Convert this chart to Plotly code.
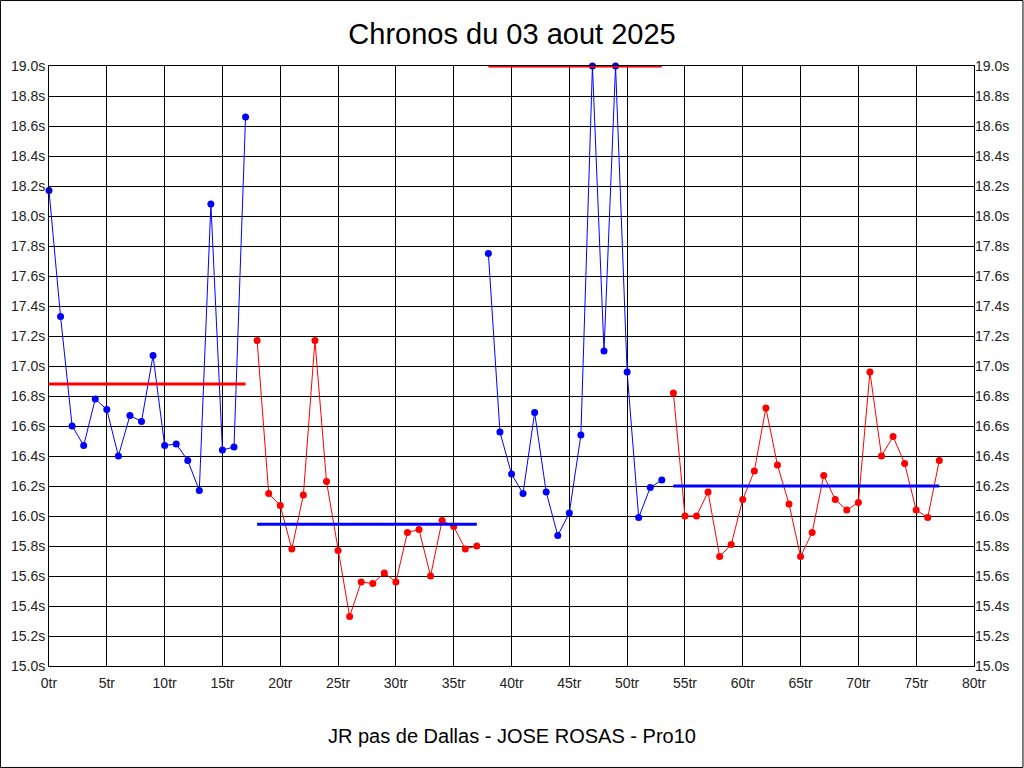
import plotly.graph_objects as go

# ---- data ----
x1 = list(range(0, 18))
y1 = [18.17, 17.33, 16.60, 16.47, 16.78, 16.71, 16.40, 16.67, 16.63, 17.07,
      16.47, 16.48, 16.37, 16.17, 18.08, 16.44, 16.46, 18.66]
avg1 = 16.88

x2 = list(range(18, 38))
y2 = [17.17, 16.15, 16.07, 15.78, 16.14, 17.17, 16.23, 15.77, 15.33, 15.56,
      15.55, 15.62, 15.56, 15.89, 15.91, 15.60, 15.97, 15.93, 15.78, 15.80]
avg2 = 15.945

x3 = list(range(38, 54))
y3 = [17.75, 16.56, 16.28, 16.15, 16.69, 16.16, 15.87, 16.02, 16.54, 19.00,
      17.10, 19.00, 16.96, 15.99, 16.19, 16.24]
avg3 = 19.00

x4 = list(range(54, 78))
y4 = [16.82, 16.00, 16.00, 16.16, 15.73, 15.81, 16.11, 16.30, 16.72, 16.34,
      16.08, 15.73, 15.89, 16.27, 16.11, 16.04, 16.09, 16.96, 16.40, 16.53,
      16.35, 16.04, 15.99, 16.37]
avg4 = 16.20

series = [
    (x1, y1, avg1, "#0000FF", "#FF0000"),
    (x2, y2, avg2, "#FF0000", "#0000FF"),
    (x3, y3, avg3, "#0000FF", "#FF0000"),
    (x4, y4, avg4, "#FF0000", "#0000FF"),
]

FONT = "Liberation Sans, Arial, sans-serif"

fig = go.Figure()
for xs, ys, avg, col, avgcol in series:
    fig.add_trace(go.Scatter(
        x=xs, y=ys, mode="lines+markers",
        line=dict(color=col, width=1),
        marker=dict(color=col, size=7),
        showlegend=False, cliponaxis=False, hoverinfo="x+y"))
    fig.add_trace(go.Scatter(
        x=[xs[0], xs[-1]], y=[avg, avg], mode="lines",
        line=dict(color=avgcol, width=3),
        showlegend=False, cliponaxis=False, hoverinfo="skip"))

# dummy trace for right axis
fig.add_trace(go.Scatter(x=[0], y=[15], yaxis="y2", mode="markers",
                         marker=dict(opacity=0), showlegend=False,
                         hoverinfo="skip"))

axis_common = dict(
    showline=True, linecolor="black", linewidth=1, mirror=True,
    showgrid=True, gridcolor="black", gridwidth=1,
    zeroline=False, ticks="",
    tickfont=dict(family=FONT, size=14, color="#222222"),
)

fig.update_layout(
    width=1024, height=768,
    margin=dict(l=49, r=50, t=66, b=102),
    paper_bgcolor="white", plot_bgcolor="white",
    title=dict(text="Chronos du 03 aout 2025", x=0.5, xanchor="center",
               y=1 - 34 / 768, yanchor="middle",
               font=dict(family=FONT, size=29, color="black")),
    xaxis=dict(range=[0, 80], dtick=5, tick0=0, ticksuffix="tr",
               ticklabelstandoff=4, **axis_common),
    yaxis=dict(range=[15, 19], dtick=0.2, tick0=15, tickformat=".1f",
               ticksuffix="s", **axis_common),
    yaxis2=dict(range=[15, 19], dtick=0.2, tick0=15, tickformat=".1f",
                ticksuffix="s", overlaying="y", side="right",
                showgrid=False, showline=False, zeroline=False, ticks="",
                tickfont=dict(family=FONT, size=14, color="#222222")),
    annotations=[dict(text="JR pas de Dallas - JOSE ROSAS - Pro10",
                      xref="paper", yref="paper", x=0.5, y=-70 / 600,
                      xanchor="center", yanchor="middle", showarrow=False,
                      font=dict(family=FONT, size=20, color="black"))],
    shapes=[dict(type="rect", xref="paper", yref="paper",
                 x0=-49 / 925 + 0.0005, x1=1 + 50 / 925 - 0.0011,
                 y0=-102 / 600 + 0.0009, y1=1 + 66 / 600 - 0.0009,
                 line=dict(color="black", width=1), layer="above")],
)

fig.write_html("out.html", config={"displayModeBar": False},
               post_script="document.body.style.margin='0';document.body.style.overflow='hidden';")
